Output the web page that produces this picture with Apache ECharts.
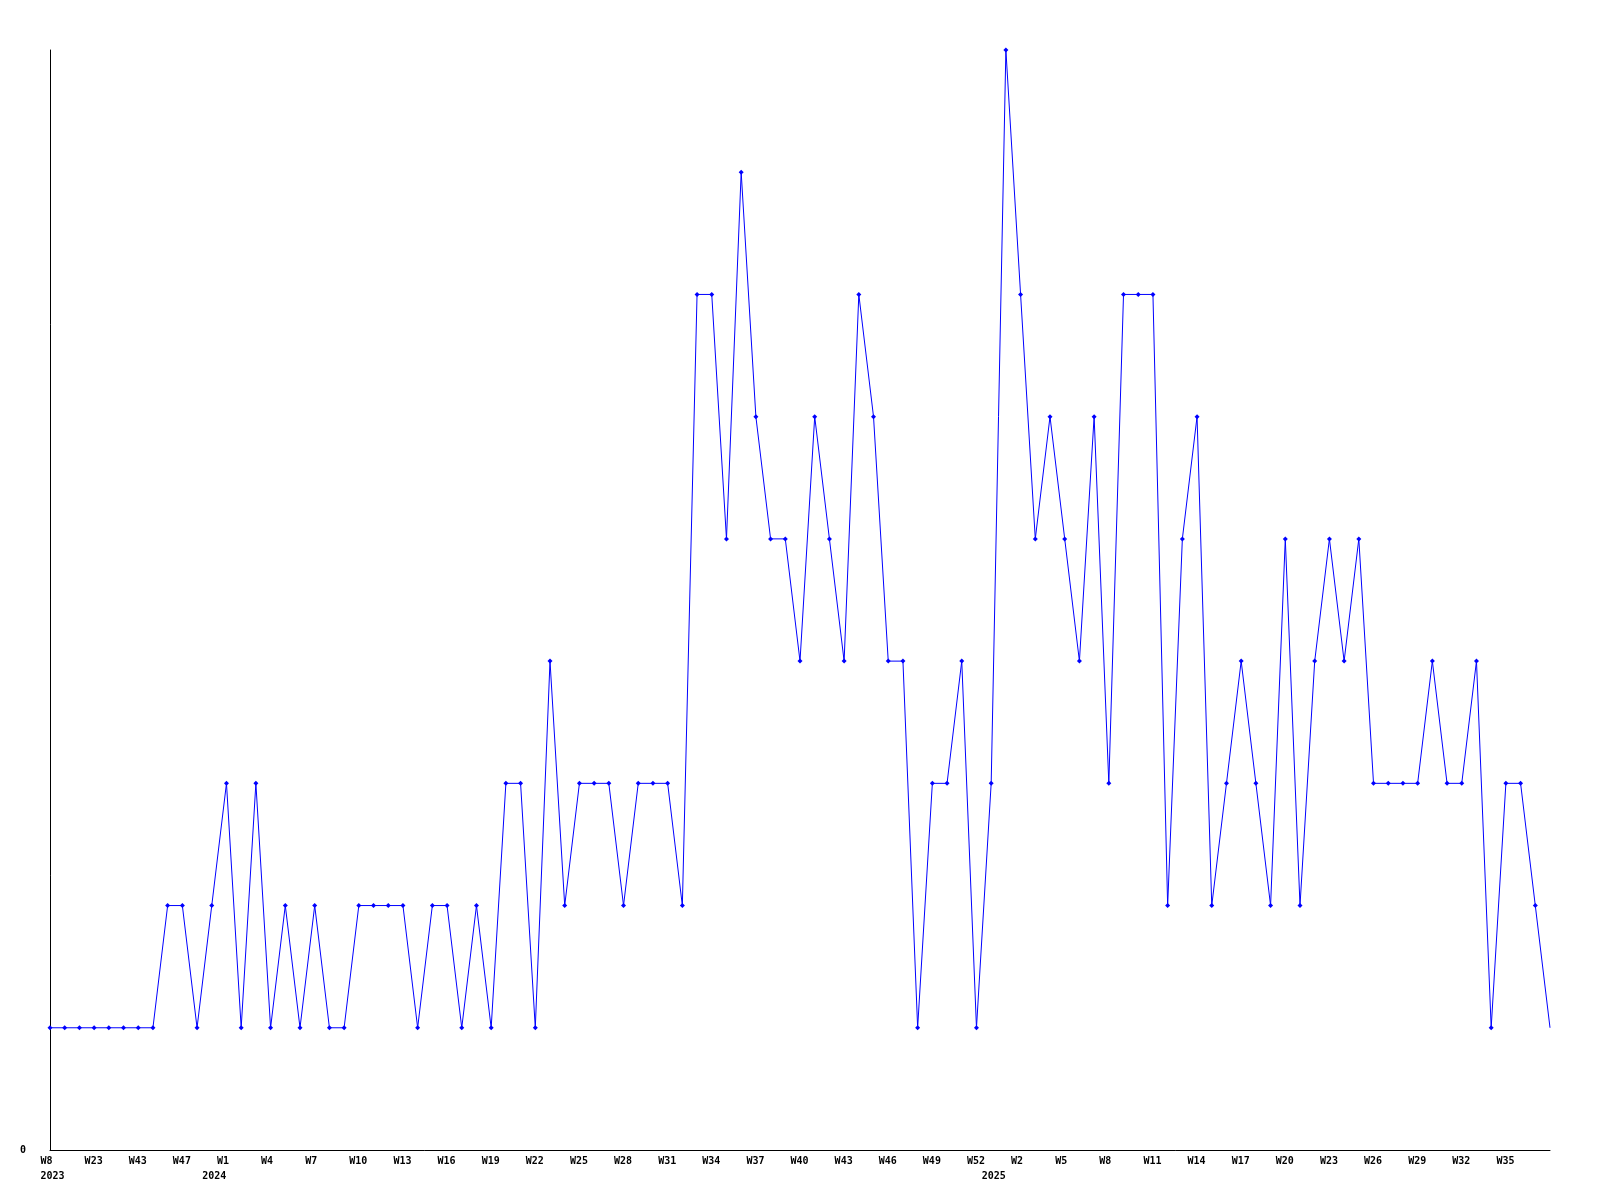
<!DOCTYPE html>
<html>
<head>
<meta charset="utf-8">
<style>
  html, body { margin: 0; padding: 0; background: #ffffff; }
  #chart { width: 1600px; height: 1200px; }
</style>
<script src="https://cdn.jsdelivr.net/npm/echarts@6/dist/echarts.min.js"></script>
</head>
<body>
<div id="chart"></div>
<script>
// Week numbers per year (points are weeks that have data)
const weeks2023 = [8, 12, 17, 23, 30, 38, 43, 44, 46, 47, 50];
const weeks2024 = Array.from({length: 53}, (_, i) => i);   // W0..W52
const weeks2025 = Array.from({length: 39}, (_, i) => i);   // W0..W38
const years = ['2023', '2024', '2025'];

// Values (one per week point)
const values = [
  1, 1, 1, 1, 1, 1, 1, 1, 2, 2,
  1, 2, 3, 1, 3, 1, 2, 1, 2, 1,
  1, 2, 2, 2, 2, 1, 2, 2, 1, 2,
  1, 3, 3, 1, 4, 2, 3, 3, 3, 2,
  3, 3, 3, 2, 7, 7, 5, 8, 6, 5,
  5, 4, 6, 5, 4, 7, 6, 4, 4, 1,
  3, 3, 4, 1, 3, 9, 7, 5, 6, 5,
  4, 6, 3, 7, 7, 7, 2, 5, 6, 2,
  3, 4, 3, 2, 5, 2, 4, 5, 4, 5,
  3, 3, 3, 3, 4, 3, 3, 4, 1, 3,
  3, 2, 1
];

// Build categories and year-start labels
const categories = [];
const yearRow = [];
[weeks2023, weeks2024, weeks2025].forEach((ws, yi) => {
  ws.forEach((w, k) => {
    categories.push('W' + w);
    yearRow.push(k === 0 ? years[yi] : '');
  });
});

const FONT = 'DejaVu Sans Mono';
const labelStyle = { fontFamily: FONT, fontWeight: 'bold', fontSize: 10, color: '#000000' };

const chart = echarts.init(document.getElementById('chart'), null, { renderer: 'canvas' });

const lastIdx = values.length - 1;
const seriesData = values.map((v, i) => i === lastIdx ? { value: v, symbol: 'none' } : v);

chart.setOption({
  animation: false,
  backgroundColor: '#ffffff',
  grid: { left: 50, right: 50, top: 50, bottom: 50, containLabel: false },
  xAxis: [
    {
      type: 'category',
      data: categories,
      boundaryGap: false,
      axisLine: { show: true, lineStyle: { color: '#000000', width: 1 } },
      axisTick: { show: false },
      splitLine: { show: false },
      axisLabel: {
        interval: (i) => i % 3 === 0 && i < lastIdx,
        margin: 6,
        formatter: (v) => '{a|' + v + '}',
        rich: { a: Object.assign({ width: 19, align: 'left' }, labelStyle) }
      }
    },
    {
      type: 'category',
      data: yearRow,
      position: 'bottom',
      offset: 15,
      boundaryGap: false,
      axisLine: { show: false },
      axisTick: { show: false },
      splitLine: { show: false },
      axisLabel: {
        interval: 0,
        margin: 6,
        formatter: (v) => v ? '{a|' + v + '}' : '',
        rich: { a: Object.assign({ width: 19, align: 'left' }, labelStyle) }
      }
    }
  ],
  yAxis: {
    type: 'value',
    min: 0,
    max: 9,
    interval: 9,
    axisLine: { show: true, lineStyle: { color: '#000000', width: 1 } },
    axisTick: { show: false },
    splitLine: { show: false },
    axisLabel: Object.assign({
      margin: 24,
      formatter: (v) => v === 0 ? '0' : ''
    }, labelStyle)
  },
  series: [{
    type: 'line',
    xAxisIndex: 0,
    data: seriesData,
    showAllSymbol: true,
    symbol: 'diamond',
    symbolSize: 5,
    itemStyle: { color: '#0000ff' },
    lineStyle: { color: '#0000ff', width: 1 },
    emphasis: { disabled: true }
  }]
});
</script>
</body>
</html>
